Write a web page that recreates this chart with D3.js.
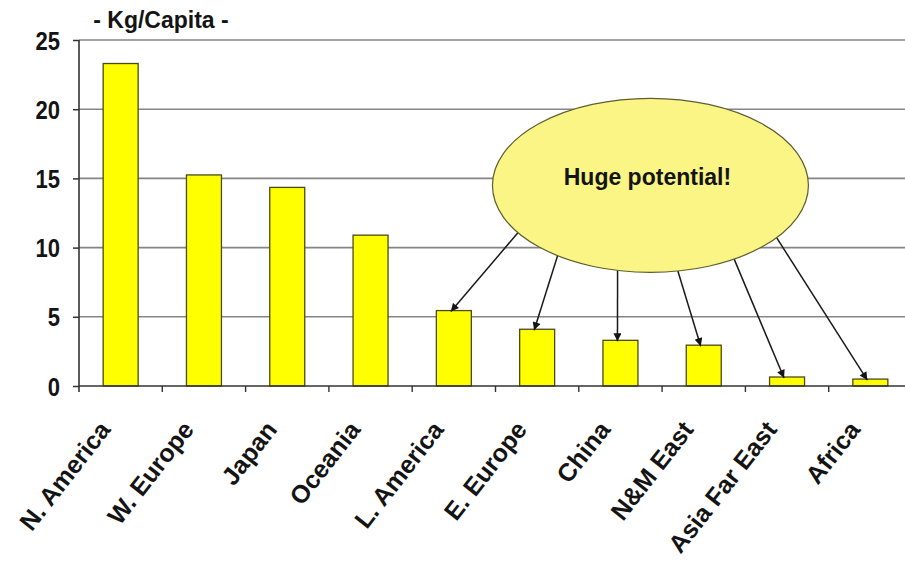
<!DOCTYPE html>
<html>
<head>
<meta charset="utf-8">
<script src="https://cdn.jsdelivr.net/npm/d3@7"></script>
<style>
  body { margin: 0; background: #fff; }
  svg { display: block; }
  text { font-family: "Liberation Sans", Arial, sans-serif; font-weight: bold; fill: #141414; }
</style>
</head>
<body>
<svg id="chart" width="905" height="562"></svg>
<script>
// Consumption per head by region
const regions = ["N. America", "W. Europe", "Japan", "Oceania", "L. America",
                 "E. Europe", "China", "N&M East", "Asia Far East", "Africa"];
const kgPerCapita = [23.3, 15.25, 14.35, 10.9, 5.45, 4.1, 3.3, 2.95, 0.65, 0.5];
const yTicks = [0, 5, 10, 15, 20, 25];
const unitLabel = "- Kg/Capita -";

// Callout and the regions it points at
const calloutText = "Huge potential!";
const calloutTargets = ["L. America", "E. Europe", "China", "N&M East", "Asia Far East", "Africa"];
// where each arrow leaves the callout ellipse (degrees, clockwise from 3 o'clock)
const calloutExitAngles = [147, 126, 102, 80, 58, 37];

const W = 905, H = 562;
const plot = { left: 79, right: 912, top: 40, bottom: 386 };

const svg = d3.select("#chart");

const x = d3.scaleBand()
  .domain(regions)
  .range([plot.left, plot.right])
  .paddingInner(0.58)
  .paddingOuter(0.29);
const y = d3.scaleLinear().domain([0, 25]).range([plot.bottom, plot.top]);
const step = x.step();

// horizontal gridlines
svg.append("g")
  .selectAll("line")
  .data(yTicks.filter(d => d > 0))
  .join("line")
  .attr("x1", plot.left).attr("x2", W)
  .attr("y1", d => y(d)).attr("y2", d => y(d))
  .attr("stroke", "#858585")
  .attr("stroke-width", 1.6);

// bars
const rows = regions.map((r, i) => ({ region: r, value: kgPerCapita[i] }));
svg.append("g")
  .selectAll("rect")
  .data(rows)
  .join("rect")
  .attr("x", d => x(d.region))
  .attr("y", d => y(d.value))
  .attr("width", x.bandwidth())
  .attr("height", d => y(0) - y(d.value))
  .attr("fill", "#ffff00")
  .attr("stroke", "#4a4a1a")
  .attr("stroke-width", 1.3);

// y axis
const yAxis = svg.append("g")
  .attr("transform", `translate(${plot.left},0)`)
  .call(d3.axisLeft(y).tickValues(yTicks).tickSize(6).tickPadding(13).tickFormat(d3.format("d")));
yAxis.select(".domain").remove();
yAxis.selectAll(".tick line").attr("stroke", "#333").attr("stroke-width", 1.5);
yAxis.selectAll(".tick text")
  .attr("x", null).attr("dy", null)
  .attr("transform", "translate(-19,0) scale(1,1.14)")
  .attr("y", "0.36em")
  .attr("font-size", 22)
  .style("font-family", "\"Liberation Sans\", Arial, sans-serif")
  .style("font-weight", "bold")
  .attr("fill", "#141414");

// axis lines
svg.append("line")
  .attr("x1", plot.left).attr("x2", plot.left)
  .attr("y1", plot.top).attr("y2", plot.bottom + 6)
  .attr("stroke", "#333").attr("stroke-width", 1.6);
svg.append("line")
  .attr("x1", plot.left).attr("x2", W)
  .attr("y1", y(0)).attr("y2", y(0))
  .attr("stroke", "#333").attr("stroke-width", 1.6);

// category separators below the baseline
svg.append("g")
  .selectAll("line")
  .data(regions.slice(1))
  .join("line")
  .attr("x1", d => x(d) - (step - x.bandwidth()) / 2)
  .attr("x2", d => x(d) - (step - x.bandwidth()) / 2)
  .attr("y1", y(0)).attr("y2", y(0) + 6)
  .attr("stroke", "#333").attr("stroke-width", 1.4);

// slanted category labels
svg.append("g")
  .selectAll("text")
  .data(regions)
  .join("text")
  .attr("transform", d => `translate(${x(d) + x.bandwidth() / 2 - 9},${y(0) + 44}) rotate(-52)`)
  .attr("text-anchor", "end")
  .attr("font-size", 25)
  .text(d => d);

// unit label
svg.append("text")
  .attr("x", 161).attr("y", 28)
  .attr("text-anchor", "middle")
  .attr("font-size", 23)
  .text(unitLabel);

// callout
const ell = { cx: plot.left + 6.86 * step, cy: y(14.5), rx: 158, ry: 87 };

const defs = svg.append("defs");
defs.append("marker")
  .attr("id", "head")
  .attr("viewBox", "0 0 10 10")
  .attr("refX", 10).attr("refY", 5)
  .attr("markerWidth", 9).attr("markerHeight", 8)
  .attr("markerUnits", "userSpaceOnUse")
  .attr("orient", "auto")
  .append("path")
  .attr("d", "M0,0 L10,5 L0,10 Z")
  .attr("fill", "#141414");

svg.append("g")
  .selectAll("line")
  .data(calloutTargets)
  .join("line")
  .attr("x1", (d, i) => ell.cx + ell.rx * Math.cos(calloutExitAngles[i] * Math.PI / 180))
  .attr("y1", (d, i) => ell.cy + ell.ry * Math.sin(calloutExitAngles[i] * Math.PI / 180))
  .attr("x2", d => x(d) + x.bandwidth() / 2 - 3)
  .attr("y2", d => y(kgPerCapita[regions.indexOf(d)]) + 1)
  .attr("stroke", "#1a1a1a")
  .attr("stroke-width", 1.5)
  .attr("marker-end", "url(#head)");

svg.append("ellipse")
  .attr("cx", ell.cx).attr("cy", ell.cy)
  .attr("rx", ell.rx).attr("ry", ell.ry)
  .attr("fill", "#fbf585")
  .attr("stroke", "#5e5e30")
  .attr("stroke-width", 1.2);

svg.append("text")
  .attr("x", ell.cx - 3).attr("y", ell.cy)
  .attr("text-anchor", "middle")
  .attr("font-size", 23)
  .text(calloutText);
</script>
</body>
</html>
